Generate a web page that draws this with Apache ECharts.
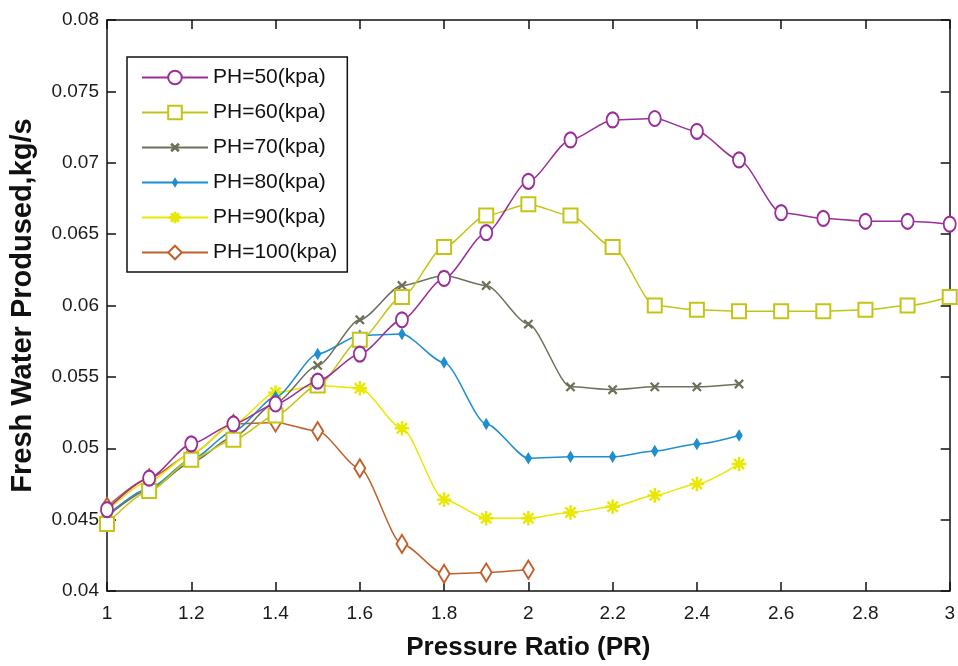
<!DOCTYPE html>
<html>
<head>
<meta charset="utf-8">
<script src="https://cdn.jsdelivr.net/npm/echarts@6/dist/echarts.min.js"></script>
<style>
  html, body { margin: 0; padding: 0; background: #fff; }
  #chart { width: 958px; height: 666px; }
</style>
</head>
<body>
<div id="chart"></div>
<script>
// Pressure ratio values on the x axis
const pressureRatio = [1.0, 1.1, 1.2, 1.3, 1.4, 1.5, 1.6, 1.7, 1.8, 1.9, 2.0,
                       2.1, 2.2, 2.3, 2.4, 2.5, 2.6, 2.7, 2.8, 2.9, 3.0];

// Fresh water produced (kg/s) for each heating pressure
const ph50  = [0.0457, 0.0479, 0.0503, 0.0517, 0.0531, 0.0547, 0.0566, 0.0590, 0.0619, 0.0651, 0.0687,
               0.0716, 0.0730, 0.0731, 0.0722, 0.0702, 0.0665, 0.0661, 0.0659, 0.0659, 0.0657];
const ph60  = [0.0447, 0.0470, 0.0492, 0.0506, 0.0523, 0.0544, 0.0576, 0.0606, 0.0641, 0.0663, 0.0671,
               0.0663, 0.0641, 0.0600, 0.0597, 0.0596, 0.0596, 0.0596, 0.0597, 0.0600, 0.0606];
const ph70  = [0.0452, 0.0471, 0.0490, 0.0508, 0.0532, 0.0558, 0.0590, 0.0614, 0.0621, 0.0614, 0.0587,
               0.0543, 0.0541, 0.0543, 0.0543, 0.0545];
const ph80  = [0.0453, 0.0472, 0.0492, 0.0512, 0.0536, 0.0566, 0.0579, 0.0580, 0.0560, 0.0517, 0.0493,
               0.0494, 0.0494, 0.0498, 0.0503, 0.0509];
const ph90  = [0.0456, 0.0477, 0.0496, 0.0517, 0.0539, 0.0544, 0.0542, 0.0514, 0.0464, 0.0451, 0.0451,
               0.0455, 0.0459, 0.0467, 0.0475, 0.0489];
const ph100 = [0.0459, 0.0479, 0.0496, 0.0517, 0.0518, 0.0512, 0.0486, 0.0433, 0.0412, 0.0413, 0.0415];

// Axis ticks
const xTicks = [1, 1.2, 1.4, 1.6, 1.8, 2, 2.2, 2.4, 2.6, 2.8, 3];
const yTicks = [0.04, 0.045, 0.05, 0.055, 0.06, 0.065, 0.07, 0.075, 0.08];

const seriesNames = ['PH=50(kpa)', 'PH=60(kpa)', 'PH=70(kpa)', 'PH=80(kpa)', 'PH=90(kpa)', 'PH=100(kpa)'];
const seriesValues = [ph50, ph60, ph70, ph80, ph90, ph100];
const colors = ['#9a2f9a', '#c4c414', '#6f6f5c', '#1f8ed0', '#e8e800', '#c0602a'];

// Marker shapes; the leading moves pad each glyph inside a 20x20 box
const pad = 'M0,0 M20,20 ';
const crossPath = 'path://' + pad + 'M5,5.8 L5.8,5 L10,9.2 L14.2,5 L15,5.8 L10.8,10 L15,14.2 L14.2,15 L10,10.8 L5.8,15 L5,14.2 L9.2,10 Z';
const starPath = 'path://' + pad +
  'M9.4,3 L10.6,3 L10.6,8.6 L14.5,4.7 L15.3,5.5 L11.4,9.4 L17,9.4 L17,10.6 L11.4,10.6 L15.3,14.5 L14.5,15.3 L10.6,11.4 L10.6,17 L9.4,17 L9.4,11.4 L5.5,15.3 L4.7,14.5 L8.6,10.6 L3,10.6 L3,9.4 L8.6,9.4 L4.7,5.5 L5.5,4.7 L9.4,8.6 Z';
const dotDiamond = 'path://' + pad + 'M10,5 L13,10 L10,15 L7,10 Z';

const markers = [
  { symbol: 'emptyCircle', size: [12, 15] },
  { symbol: 'emptyRect', size: [14, 14] },
  { symbol: crossPath, size: 16 },
  { symbol: dotDiamond, size: 20 },
  { symbol: starPath, size: 19 },
  { symbol: 'emptyDiamond', size: [11, 18] }
];

const series = seriesValues.map((vals, i) => ({
  name: seriesNames[i],
  type: 'line',
  xAxisIndex: 0,
  yAxisIndex: 0,
  data: vals.map((v, k) => [pressureRatio[k], v]),
  smooth: 0.25,
  smoothMonotone: 'x',
  symbol: markers[i].symbol,
  symbolSize: markers[i].size,
  showAllSymbol: true,
  lineStyle: { color: colors[i], width: 1.5 },
  itemStyle: { color: colors[i], borderColor: colors[i], borderWidth: 1.3 },
  emphasis: { disabled: true },
  z: 10 - i
}));

const sans = 'Liberation Sans, Arial, sans-serif';

const option = {
  animation: false,
  backgroundColor: '#ffffff',
  grid: { left: 105, right: 5, top: 20, bottom: 68, containLabel: false },
  legend: {
    left: 127,
    top: 57,
    orient: 'vertical',
    padding: [10, 10, 9, 14],
    itemGap: 14,
    itemWidth: 66,
    itemHeight: 17,
    borderColor: '#111',
    borderWidth: 1.5,
    borderRadius: 0,
    backgroundColor: '#fff',
    textStyle: { fontSize: 21, color: '#111', fontFamily: sans },
    data: seriesNames
  },
  xAxis: [
    {
      type: 'value',
      min: 1, max: 3, interval: 0.2,
      name: 'Pressure Ratio (PR)',
      nameLocation: 'middle',
      nameGap: 44,
      nameTextStyle: { fontSize: 26, fontWeight: 'bold', color: '#111', fontFamily: sans },
      axisLine: { onZero: false, lineStyle: { color: '#111', width: 1.5 } },
      axisTick: { inside: true, length: 9, lineStyle: { color: '#111', width: 1.5 } },
      axisLabel: {
        color: '#1a1a1a', fontFamily: sans, fontSize: 19, margin: 13,
        formatter: v => String(Math.round(v * 10) / 10)
      },
      splitLine: { show: false }
    },
    {
      type: 'value',
      position: 'top',
      min: 1, max: 3, interval: 0.2,
      axisLine: { show: true, onZero: false, lineStyle: { color: '#111', width: 1.5 } },
      axisTick: { show: true, inside: true, length: 9, lineStyle: { color: '#111', width: 1.5 } },
      axisLabel: { show: false },
      splitLine: { show: false }
    }
  ],
  yAxis: [
    {
      type: 'value',
      min: 0.04, max: 0.08, interval: 0.005,
      name: 'Fresh Water Prodused,kg/s',
      nameLocation: 'middle',
      nameGap: 70,
      nameRotate: 90,
      nameTextStyle: { fontSize: 29, fontWeight: 'bold', color: '#111', fontFamily: sans },
      axisLine: { onZero: false, lineStyle: { color: '#111', width: 1.5 } },
      axisTick: { inside: true, length: 9, lineStyle: { color: '#111', width: 1.5 } },
      axisLabel: {
        color: '#1a1a1a', fontFamily: sans, fontSize: 19, margin: 8,
        formatter: v => String(parseFloat(v.toFixed(3)))
      },
      splitLine: { show: false }
    },
    {
      type: 'value',
      position: 'right',
      min: 0.04, max: 0.08, interval: 0.005,
      axisLine: { show: true, onZero: false, lineStyle: { color: '#111', width: 1.5 } },
      axisTick: { show: true, inside: true, length: 9, lineStyle: { color: '#111', width: 1.5 } },
      axisLabel: { show: false },
      splitLine: { show: false }
    }
  ],
  series: series
};

const chart = echarts.init(document.getElementById('chart'), null, { renderer: 'canvas' });
chart.setOption(option);
</script>
</body>
</html>
